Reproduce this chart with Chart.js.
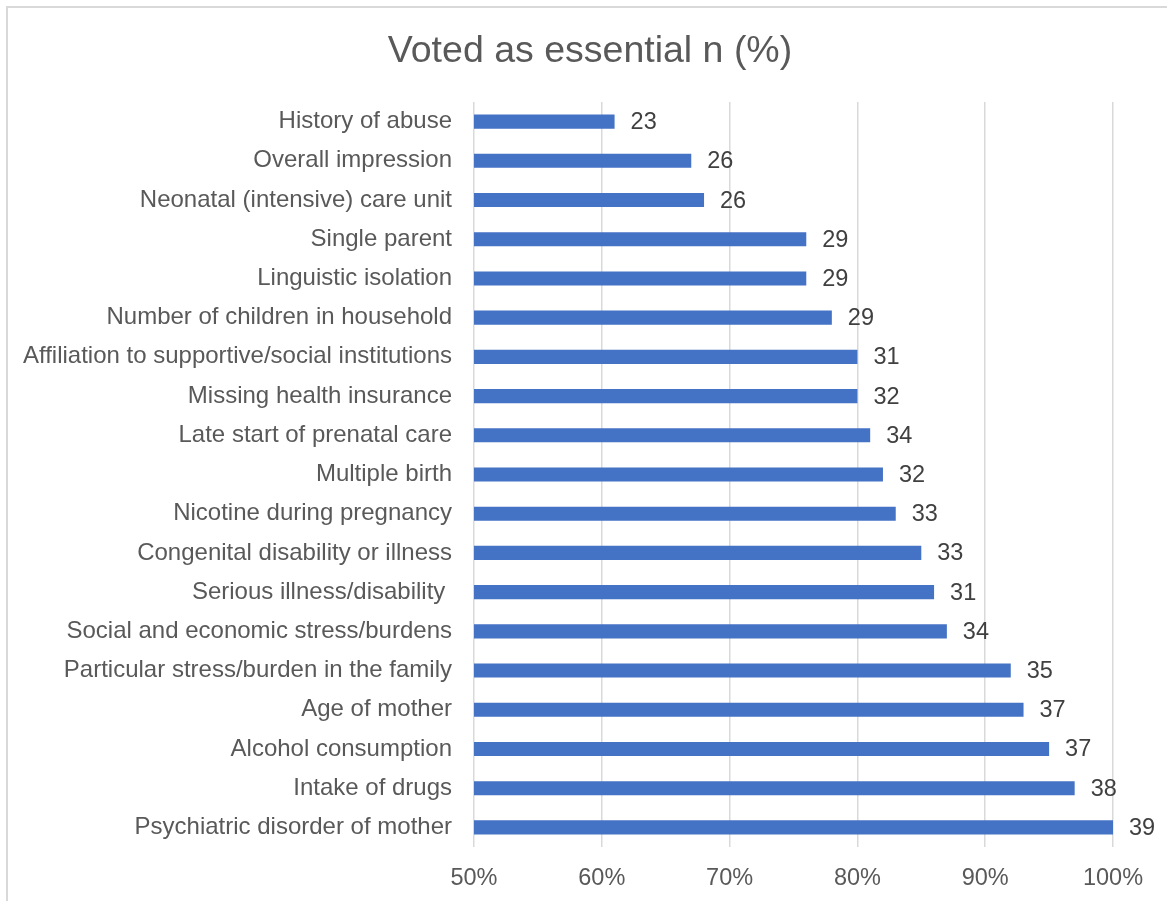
<!DOCTYPE html>
<html>
<head>
<meta charset="utf-8">
<script src="https://cdn.jsdelivr.net/npm/chart.js@4.4.0/dist/chart.umd.min.js"></script>
<style>
    html, body { margin: 0; padding: 0; background: #fff; overflow: hidden; }
    .frame { position: absolute; left: 6px; top: 6px; width: 1300px; height: 1100px; border: 2px solid #d9d9d9; }
    .wrap { position: absolute; left: 0; top: 0; width: 1167px; height: 901px; }
</style>
</head>
<body>
<div class="frame"></div>
<div class="wrap"><canvas id="essentialChart"></canvas></div>
<script>
// Items, top to bottom
const categories = [
    'History of abuse',
    'Overall impression',
    'Neonatal (intensive) care unit',
    'Single parent',
    'Linguistic isolation',
    'Number of children in household',
    'Affiliation to supportive/social institutions',
    'Missing health insurance',
    'Late start of prenatal care',
    'Multiple birth',
    'Nicotine during pregnancy',
    'Congenital disability or illness',
    'Serious illness/disability ',
    'Social and economic stress/burdens',
    'Particular stress/burden in the family',
    'Age of mother',
    'Alcohol consumption',
    'Intake of drugs',
    'Psychiatric disorder of mother'
];

// Share voted as essential (%)
const percentValues = [61, 67, 68, 76, 76, 78, 80, 80, 81, 82, 83, 85, 86, 87, 92, 93, 95, 97, 100];

// n voted as essential (shown at bar end)
const countValues = [23, 26, 26, 29, 29, 29, 31, 32, 34, 32, 33, 33, 31, 34, 35, 37, 37, 38, 39];

const xTicks = [50, 60, 70, 80, 90, 100];

const fontFamily = '"Liberation Sans", Arial, sans-serif';

// Draw n next to every bar
const countLabels = {
    id: 'countLabels',
    afterDatasetsDraw(chart) {
        const ctx = chart.ctx;
        const meta = chart.getDatasetMeta(0);
        ctx.save();
        ctx.font = '23.5px ' + fontFamily;
        ctx.fillStyle = '#404040';
        ctx.textAlign = 'left';
        ctx.textBaseline = 'middle';
        meta.data.forEach((bar, i) => {
            ctx.fillText(String(countValues[i]), bar.x + 16, bar.y + 1);
        });
        ctx.restore();
    }
};

// The original title sits a bit right of the canvas centre
const shiftTitle = {
    id: 'shiftTitle',
    afterLayout(chart) {
        if (chart.titleBlock) {
            chart.titleBlock.left = 67;
        }
    }
};

document.addEventListener('DOMContentLoaded', () => {
    const ctx = document.getElementById('essentialChart').getContext('2d');

    new Chart(ctx, {
        type: 'bar',
        data: {
            labels: categories,
            datasets: [{
                label: 'Voted as essential',
                data: percentValues,
                backgroundColor: '#4472C4',
                borderWidth: 0,
                barPercentage: 0.72,
                categoryPercentage: 0.5
            }]
        },
        options: {
            indexAxis: 'y',
            responsive: true,
            maintainAspectRatio: false,
            animation: false,
            layout: {
                padding: { left: 10, right: 54, top: 0, bottom: 0 }
            },
            plugins: {
                legend: { display: false },
                tooltip: { enabled: false },
                title: {
                    display: true,
                    text: 'Voted as essential n (%)',
                    color: '#595959',
                    font: { family: fontFamily, size: 37.5, weight: 'normal' },
                    padding: { top: 29, bottom: 28 }
                }
            },
            scales: {
                x: {
                    min: 50,
                    max: 100,
                    afterBuildTicks: (scale) => {
                        scale.ticks = xTicks.map(v => ({ value: v }));
                    },
                    afterFit: (scale) => { scale.height = 54; },
                    ticks: {
                        color: '#595959',
                        font: { family: fontFamily, size: 23.5 },
                        padding: 17,
                        callback: (v) => v + '%'
                    },
                    grid: {
                        color: '#d9d9d9',
                        lineWidth: 1.5,
                        drawTicks: false
                    },
                    border: { display: false }
                },
                y: {
                    afterFit: (scale) => { scale.width = 464; },
                    ticks: {
                        color: '#595959',
                        font: { family: fontFamily, size: 24 },
                        padding: 22,
                        autoSkip: false
                    },
                    grid: { display: false, drawTicks: false },
                    border: { display: false }
                }
            }
        },
        plugins: [countLabels, shiftTitle]
    });
});
</script>
</body>
</html>
